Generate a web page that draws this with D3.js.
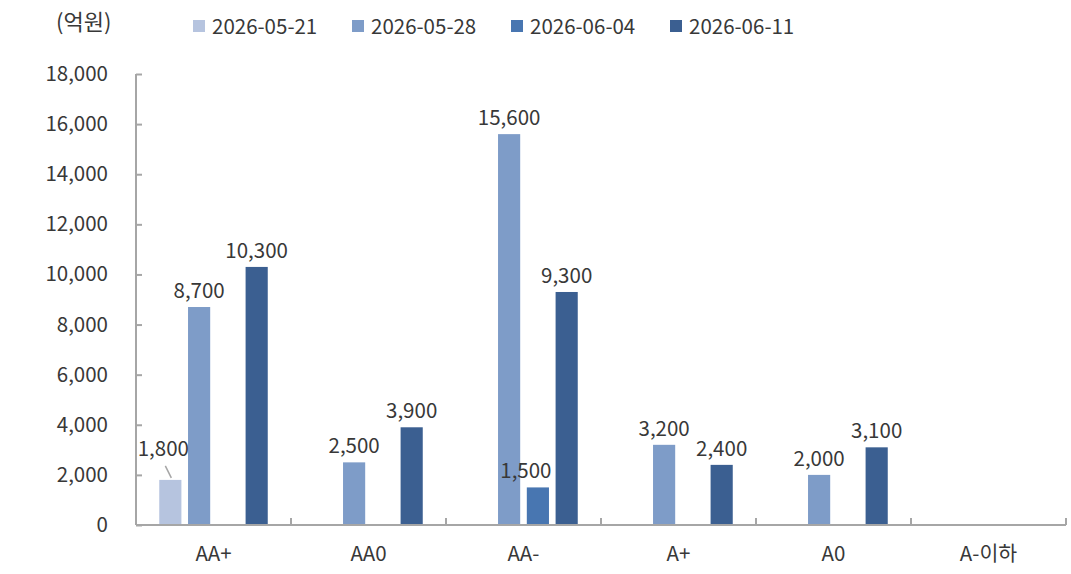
<!DOCTYPE html>
<html>
<head>
<meta charset="utf-8">
<script src="https://cdn.jsdelivr.net/npm/d3@7"></script>
<style>
  body { margin: 0; background: #fff; }
  text { font-family: "Noto Sans CJK KR", "Noto Sans", sans-serif; fill: #383838; }
</style>
</head>
<body>
<svg id="chart"></svg>
<script>
const svg = d3.select("#chart");

const width = 1071;
const height = 574;

// categories and series
const grades = ["AA+", "AA0", "AA-", "A+", "A0", "A-이하"];
const weeks = ["2026-05-21", "2026-05-28", "2026-06-04", "2026-06-11"];
const colors = ["#b6c4df", "#7e9cc8", "#4876b1", "#3b5f91"];

// values per week (억원), null = no bar
const week0521 = [1800, null, null, null, null, null];
const week0528 = [8700, 2500, 15600, 3200, 2000, null];
const week0604 = [null, null, 1500, null, null, null];
const week0611 = [10300, 3900, 9300, 2400, 3100, null];
const seriesValues = [week0521, week0528, week0604, week0611];

const yTicks = [0, 2000, 4000, 6000, 8000, 10000, 12000, 14000, 16000, 18000];

svg.attr("width", width).attr("height", height);

const plotLeft = 136, plotRight = 1066, plotTop = 74, plotBottom = 525;
const fontSize = 20.5;

const x0 = d3.scaleBand()
  .domain(grades)
  .range([plotLeft, plotRight])
  .paddingInner(0.3)
  .paddingOuter(0.15);

const x1 = d3.scaleBand()
  .domain(weeks)
  .range([0, x0.bandwidth()])
  .paddingInner(0.23);

const y = d3.scaleLinear()
  .domain([0, 18000])
  .range([plotBottom, plotTop]);

const fmt = d3.format(",");

/* -------------------------
   BARS
-------------------------- */

const bars = [];
weeks.forEach((w, si) => {
  grades.forEach((g, ci) => {
    const v = seriesValues[si][ci];
    if (v != null) bars.push({ week: w, grade: g, value: v, si: si });
  });
});

svg.append("g")
  .selectAll("rect")
  .data(bars)
  .enter()
  .append("rect")
  .attr("x", d => x0(d.grade) + x1(d.week))
  .attr("y", d => y(d.value))
  .attr("width", x1.bandwidth())
  .attr("height", d => y(0) - y(d.value))
  .attr("fill", d => colors[d.si]);

/* -------------------------
   AXES
-------------------------- */

const axisColor = "#a6a6a6";

// y axis (ticks pointing into the plot)
const yAxis = svg.append("g")
  .attr("transform", `translate(${plotLeft},0)`)
  .call(d3.axisRight(y).tickValues(yTicks).tickSize(6).tickFormat(""));
yAxis.select(".domain").attr("stroke", axisColor).attr("stroke-width", 2)
  .attr("d", `M0,${plotTop}V${plotBottom}`);
yAxis.selectAll(".tick line").attr("stroke", axisColor).attr("stroke-width", 2);

svg.append("g")
  .selectAll("text")
  .data(yTicks)
  .enter()
  .append("text")
  .attr("x", 108)
  .attr("y", d => y(d) + 7)
  .attr("text-anchor", "end")
  .attr("font-size", fontSize)
  .text(d => fmt(d));

// x axis with ticks between categories
const xAxis = svg.append("g");
xAxis.append("line")
  .attr("x1", plotLeft).attr("x2", plotRight)
  .attr("y1", plotBottom).attr("y2", plotBottom)
  .attr("stroke", axisColor).attr("stroke-width", 2);

const boundaries = grades.map(g => x0(g) - x0.step() * x0.paddingInner() / 2 + x0.step());
xAxis.selectAll("line.tick")
  .data(boundaries)
  .enter()
  .append("line")
  .attr("class", "tick")
  .attr("x1", d => d).attr("x2", d => d)
  .attr("y1", plotBottom).attr("y2", plotBottom - 7)
  .attr("stroke", axisColor).attr("stroke-width", 2);

svg.append("g")
  .selectAll("text")
  .data(grades)
  .enter()
  .append("text")
  .attr("x", d => x0(d) + x0.bandwidth() / 2)
  .attr("y", 561)
  .attr("text-anchor", "middle")
  .attr("font-size", fontSize)
  .text(d => d);

/* -------------------------
   VALUE LABELS
-------------------------- */

// a few labels are nudged off their bars, as in the original
const labelShift = { "2026-05-21|AA+": [-7, -15], "2026-06-04|AA-": [-12, 0] };

svg.append("g")
  .selectAll("text")
  .data(bars)
  .enter()
  .append("text")
  .attr("x", d => x0(d.grade) + x1(d.week) + x1.bandwidth() / 2 + (labelShift[d.week + "|" + d.grade] || [0, 0])[0])
  .attr("y", d => y(d.value) - 9 + (labelShift[d.week + "|" + d.grade] || [0, 0])[1])
  .attr("text-anchor", "middle")
  .attr("font-size", fontSize)
  .text(d => fmt(d.value));

// leader line for the 1,800 label
const lead = bars.find(d => d.week === "2026-05-21" && d.grade === "AA+");
const lx = x0(lead.grade) + x1(lead.week) + x1.bandwidth() / 2;
svg.append("line")
  .attr("x1", lx - 5).attr("y1", y(lead.value) - 14)
  .attr("x2", lx + 1).attr("y2", y(lead.value) - 2)
  .attr("stroke", "#a6a6a6").attr("stroke-width", 1.5);

/* -------------------------
   UNIT + LEGEND
-------------------------- */

svg.append("text")
  .attr("x", 56).attr("y", 30)
  .attr("font-size", 22)
  .text("(억원)");

const legend = svg.append("g")
  .selectAll("g")
  .data(weeks)
  .enter()
  .append("g")
  .attr("transform", (d, i) => `translate(${193 + i * 159},20)`);

legend.append("rect")
  .attr("width", 12).attr("height", 12)
  .attr("fill", (d, i) => colors[i]);

legend.append("text")
  .attr("x", 19).attr("y", 14)
  .attr("font-size", 20.5)
  .text(d => d);
</script>
</body>
</html>
